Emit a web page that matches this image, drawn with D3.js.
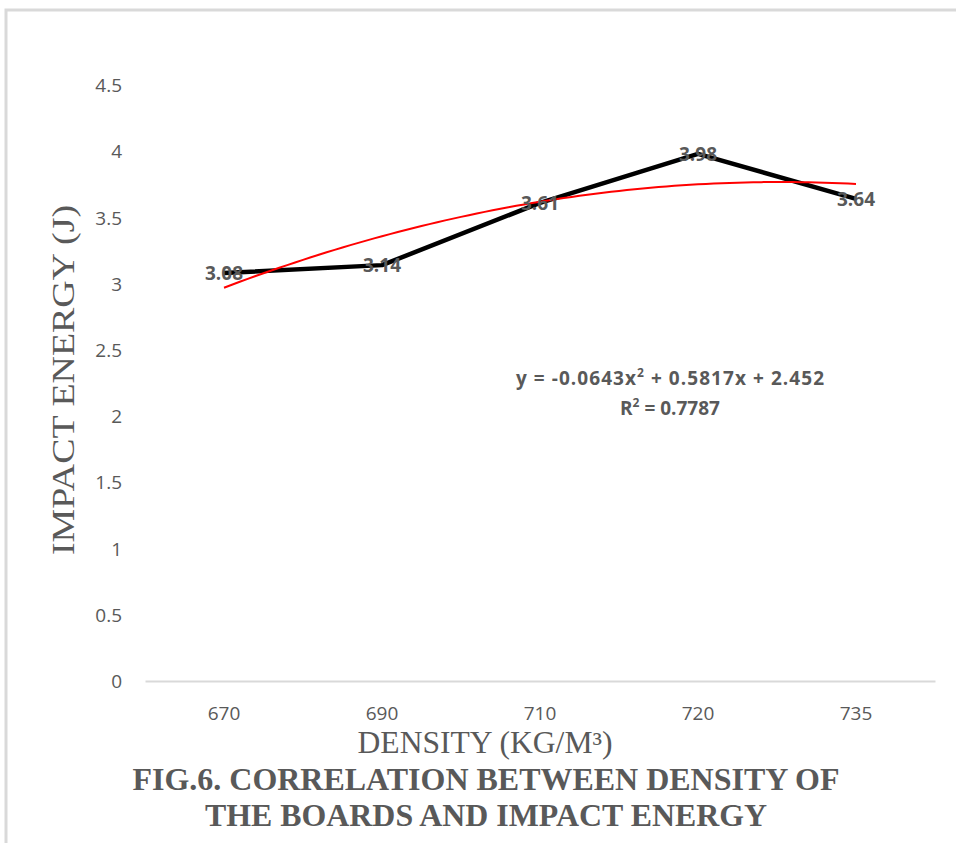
<!DOCTYPE html>
<html><head><meta charset="utf-8">
<script src="https://cdn.jsdelivr.net/npm/d3@7"></script>
<style>body{margin:0;background:#fff}svg{display:block}</style>
</head><body>
<svg id="c" width="956" height="843"></svg>
<script>
const categories = ["670", "690", "710", "720", "735"];
const impactEnergy = [3.08, 3.14, 3.61, 3.98, 3.64];
const yTicks = [0, 0.5, 1, 1.5, 2, 2.5, 3, 3.5, 4, 4.5];
const trendCoef = [-0.0643, 0.5817, 2.452]; // y = a x^2 + b x + c, x = 1..n
const rSquared = "0.7787";

const svg = d3.select("#c");
const gray = "#595959";

// outer border
svg.append("path").attr("d", "M6,843 L6,10 L956,10")
  .attr("fill", "none").attr("stroke", "#d9d9d9").attr("stroke-width", 3);

const x = d3.scaleBand().domain(categories).range([145, 935]);
const y = d3.scaleLinear().domain([0, 4.5]).range([681, 85]);

// x axis
const xa = svg.append("g").attr("transform", "translate(0,681)")
  .call(d3.axisBottom(x).tickSize(0).tickPadding(0));
xa.select(".domain").attr("stroke", "#d9d9d9").attr("stroke-width", 2);
xa.selectAll("text").attr("dy", null).attr("y", 39)
  .attr("font-family", "Open Sans, sans-serif").attr("font-size", 19).attr("fill", gray);

// y axis
const ya = svg.append("g").attr("transform", "translate(122,0)")
  .call(d3.axisLeft(y).tickValues(yTicks).tickFormat(d3.format("")).tickSize(0).tickPadding(0));
ya.select(".domain").remove();
ya.selectAll("text").attr("dy", "0.35em")
  .attr("font-family", "Open Sans, sans-serif").attr("font-size", 19).attr("fill", gray);

const cx = (d, i) => x(categories[i]) + x.bandwidth() / 2;

// data line
const line = d3.line().x((d, i) => cx(d, i)).y(d => y(d));
svg.append("path").datum(impactEnergy).attr("d", line)
  .attr("fill", "none").attr("stroke", "#000").attr("stroke-width", 4.5)
  .attr("stroke-linejoin", "round");

// polynomial trendline
const xi = d3.scaleLinear().domain([1, categories.length]).range([cx(0, 0), cx(0, categories.length - 1)]);
const tPts = d3.range(1, categories.length + 0.001, 0.05).map(t => [xi(t), y(trendCoef[0] * t * t + trendCoef[1] * t + trendCoef[2])]);
svg.append("path").datum(tPts).attr("d", d3.line())
  .attr("fill", "none").attr("stroke", "#ff0000").attr("stroke-width", 2);

// data labels
svg.selectAll(".dl").data(impactEnergy).join("text")
  .attr("x", (d, i) => cx(d, i)).attr("y", d => y(d)).attr("dy", "0.35em")
  .attr("text-anchor", "middle").attr("font-family", "Open Sans, sans-serif")
  .attr("font-weight", "bold").attr("font-size", 19).attr("fill", gray)
  .text(d => d.toFixed(2));

// equation
const eq = svg.append("text").attr("x", 670).attr("y", 385).attr("text-anchor", "middle")
  .attr("font-family", "Open Sans, sans-serif").attr("font-weight", "bold").attr("font-size", 19).attr("fill", gray)
  .attr("textLength", 308).attr("lengthAdjust", "spacing");
eq.append("tspan").text("y = " + trendCoef[0] + "x");
eq.append("tspan").attr("font-size", 12).attr("dy", -8).text("2");
eq.append("tspan").attr("dy", 8).text(" + " + trendCoef[1] + "x + " + trendCoef[2]);
const r2 = svg.append("text").attr("x", 670).attr("y", 415).attr("text-anchor", "middle")
  .attr("font-family", "Open Sans, sans-serif").attr("font-weight", "bold").attr("font-size", 19).attr("fill", gray);
r2.append("tspan").text("R");
r2.append("tspan").attr("font-size", 12).attr("dy", -8).text("2");
r2.append("tspan").attr("dy", 8).text(" = " + rSquared);

// axis titles
svg.append("text").attr("x", 485).attr("y", 753).attr("text-anchor", "middle")
  .attr("font-family", "Liberation Serif, serif").attr("font-size", 31).attr("fill", gray)
  .attr("textLength", 255).attr("lengthAdjust", "spacingAndGlyphs")
  .text("DENSITY (KG/M³)");
svg.append("text").attr("transform", "translate(74,380) rotate(-90)").attr("text-anchor", "middle")
  .attr("font-family", "Liberation Serif, serif").attr("font-size", 31).attr("fill", gray)
  .attr("textLength", 350).attr("lengthAdjust", "spacingAndGlyphs")
  .text("IMPACT ENERGY (J)");

// caption
const cap = ["FIG.6. CORRELATION BETWEEN DENSITY OF", "THE BOARDS AND IMPACT ENERGY"];
const capLen = [707, 562];
svg.selectAll(".cap").data(cap).join("text")
  .attr("x", 486).attr("y", (d, i) => 790 + i * 36).attr("text-anchor", "middle")
  .attr("font-family", "Liberation Serif, serif").attr("font-weight", "bold").attr("font-size", 32).attr("fill", gray)
  .attr("textLength", (d, i) => capLen[i]).attr("lengthAdjust", "spacingAndGlyphs")
  .text(d => d);
</script>
</body></html>
